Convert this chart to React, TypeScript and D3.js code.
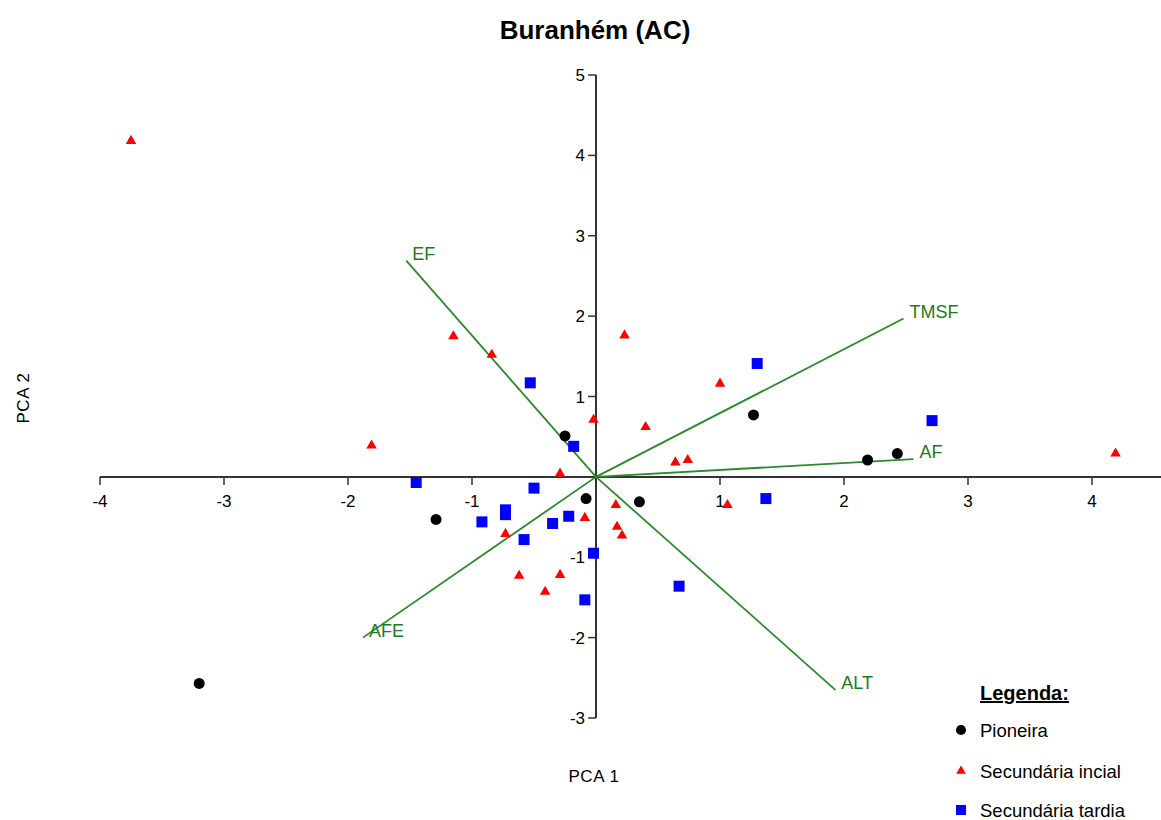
import React from "react";
import * as d3 from "d3";

const title = "Buranhém (AC)";
const xTicks = [-4, -3, -2, -1, 1, 2, 3, 4];
const yTicks = [-3, -2, -1, 1, 2, 3, 4, 5];

const pioneira: [number, number][] = [
  [-3.2, -2.57], [-1.29, -0.53], [-0.25, 0.51], [-0.08, -0.27],
  [0.35, -0.31], [1.27, 0.77], [2.19, 0.21], [2.43, 0.29],
];

const secInicial: [number, number][] = [
  [-3.75, 4.18], [-1.81, 0.39], [-1.15, 1.75], [-0.84, 1.52], [-0.02, 0.71],
  [0.40, 0.62], [-0.29, 0.04], [0.16, -0.35], [-0.09, -0.51], [0.17, -0.62],
  [0.21, -0.73], [-0.73, -0.71], [-0.62, -1.23], [-0.29, -1.22], [-0.41, -1.43],
  [0.23, 1.76], [1.0, 1.16], [0.64, 0.18], [0.74, 0.21], [1.06, -0.35], [4.19, 0.29],
];

const secTardia: [number, number][] = [
  [-1.45, -0.07], [-0.53, 1.17], [-0.18, 0.38], [-0.50, -0.14], [-0.92, -0.56],
  [-0.73, -0.41], [-0.73, -0.47], [-0.35, -0.58], [-0.22, -0.49], [-0.58, -0.78],
  [-0.02, -0.95], [-0.09, -1.53], [1.30, 1.41], [1.37, -0.27], [0.67, -1.36], [2.71, 0.70],
];

const vectorNames = ["EF", "TMSF", "AF", "ALT", "AFE"];
const vectorX = [-1.53, 2.48, 2.56, 1.93, -1.88];
const vectorY = [2.69, 1.97, 0.22, -2.65, -2.0];

const legendLabels = ["Pioneira", "Secundária incial", "Secundária tardia"];

export default function App() {
  const W = 1161, H = 820;
  const x = d3.scaleLinear().domain([-4, 4]).range([100, 1092]);
  const y = d3.scaleLinear().domain([-3, 5]).range([718, 75]);
  const font = "Arial, 'Liberation Sans', sans-serif";
  const green = "#2b8a2b";
  const greenText = "#1e7a1e";
  const tri = d3.symbol().type(d3.symbolTriangle).size(48)();
  const sq = d3.symbol().type(d3.symbolSquare).size(121)();
  const circ = d3.symbol().type(d3.symbolCircle).size(95)();

  return (
    <svg width={W} height={H} style={{ position: "absolute", left: 0, top: 0, background: "#fff" }} fontFamily={font}>
      <text x={595} y={39} textAnchor="middle" fontSize={26} fontWeight="bold">{title}</text>

      {/* axes */}
      <line x1={x(-4)} x2={x(4.6)} y1={y(0)} y2={y(0)} stroke="#333" strokeWidth={2} />
      <line x1={x(0)} x2={x(0)} y1={y(5)} y2={y(-3)} stroke="#333" strokeWidth={2} />
      {xTicks.map((t) => (
        <g key={"xt" + t}>
          <line x1={x(t)} x2={x(t)} y1={y(0)} y2={y(0) + 8} stroke="#333" strokeWidth={1.5} />
          <text x={x(t)} y={y(0) + 30} textAnchor="middle" fontSize={17}>{t}</text>
        </g>
      ))}
      {yTicks.map((t) => (
        <g key={"yt" + t}>
          <line x1={x(0) - 8} x2={x(0)} y1={y(t)} y2={y(t)} stroke="#333" strokeWidth={1.5} />
          <text x={x(0) - 11} y={y(t) + 6} textAnchor="end" fontSize={17}>{t}</text>
        </g>
      ))}

      <text x={594} y={782} textAnchor="middle" fontSize={17} letterSpacing={0.6}>PCA 1</text>
      <text transform={`translate(29,398) rotate(-90)`} textAnchor="middle" fontSize={17} letterSpacing={0.6}>PCA 2</text>

      {/* vectors */}
      {vectorNames.map((n, i) => (
        <g key={n}>
          <line x1={x(0)} y1={y(0)} x2={x(vectorX[i])} y2={y(vectorY[i])} stroke={green} strokeWidth={1.8} />
          <text x={x(vectorX[i]) + 6} y={y(vectorY[i]) - 1} fontSize={18} fill={greenText}>{n}</text>
        </g>
      ))}

      {/* points */}
      {secInicial.map((p, i) => (
        <path key={"r" + i} d={tri!} transform={`translate(${x(p[0])},${y(p[1])})`} fill="#ff0000" />
      ))}
      {secTardia.map((p, i) => (
        <path key={"b" + i} d={sq!} transform={`translate(${x(p[0])},${y(p[1])})`} fill="#0000ff" />
      ))}
      {pioneira.map((p, i) => (
        <path key={"k" + i} d={circ!} transform={`translate(${x(p[0])},${y(p[1])})`} fill="#000" />
      ))}

      {/* legend */}
      <text x={980} y={700} fontSize={20} fontWeight="bold" textDecoration="underline">Legenda:</text>
      <path d={d3.symbol().type(d3.symbolCircle).size(80)()!} transform="translate(961,730)" fill="#000" />
      <text x={980} y={737} fontSize={18.5}>{legendLabels[0]}</text>
      <path d={d3.symbol().type(d3.symbolTriangle).size(40)()!} transform="translate(961,771)" fill="#ff0000" />
      <text x={980} y={778} fontSize={18.5}>{legendLabels[1]}</text>
      <path d={d3.symbol().type(d3.symbolSquare).size(100)()!} transform="translate(961,810)" fill="#0000ff" />
      <text x={980} y={817} fontSize={18.5}>{legendLabels[2]}</text>
    </svg>
  );
}
